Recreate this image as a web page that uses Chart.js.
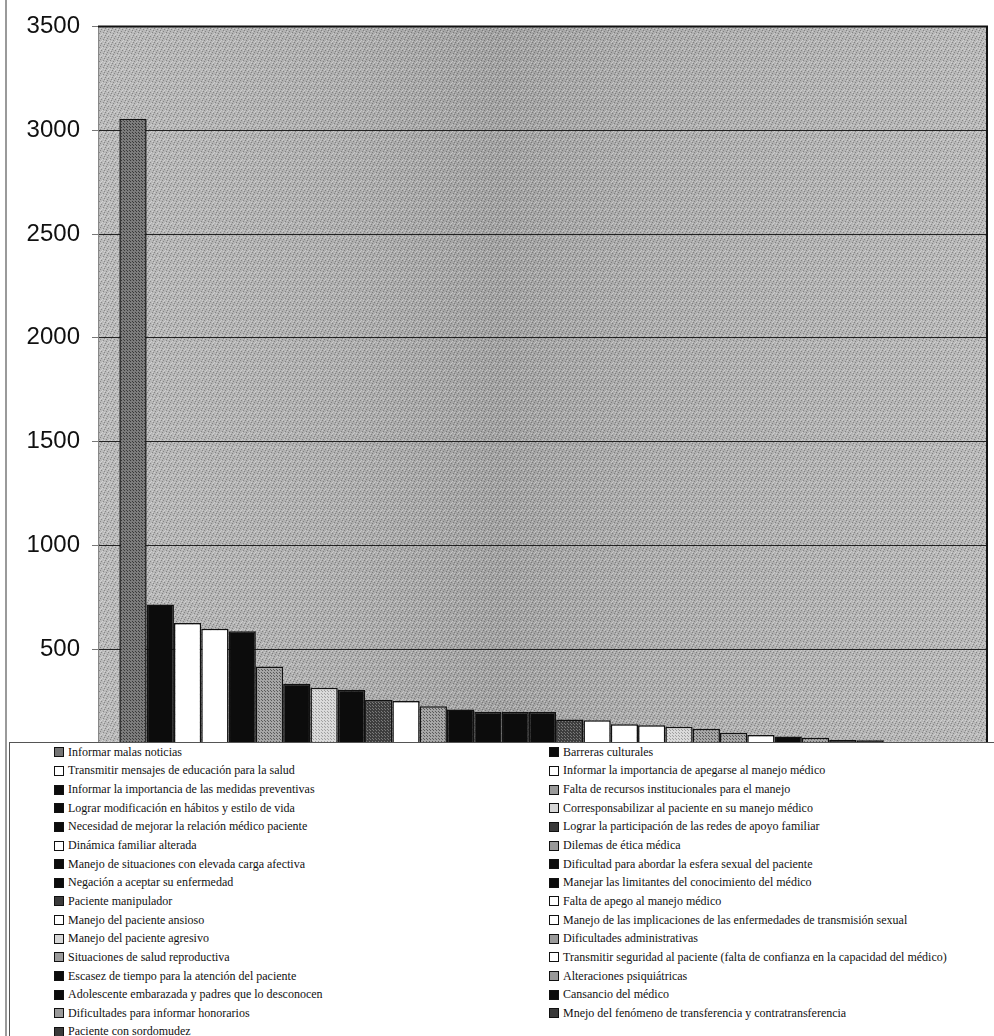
<!DOCTYPE html>
<html>
<head>
<meta charset="utf-8">
<script src="https://cdn.jsdelivr.net/npm/chart.js@4"></script>
<style>
	body { margin: 0; background: #fff; }
	#wrap { position: relative; width: 994px; height: 1036px; overflow: hidden; }
	#frame { position: absolute; left: 5px; top: 0; width: 2px; height: 1036px; background: #9a9a9a; }
	#legend {
		position: absolute; left: 9px; top: 742px; width: 1000px; height: 300px;
		background: #fff; border-left: 1px solid #555; border-top: 1px solid #555;
		display: grid; grid-template-columns: 495px 450px; grid-auto-rows: 18.65px;
		padding-left: 44px; box-sizing: border-box;
		font: 12px "Liberation Serif", "DejaVu Serif", serif; color: #111;
	}
	.item { display: flex; align-items: center; white-space: nowrap; }
	.sw { width: 8px; height: 8px; border: 1px solid #111; margin-right: 4px; flex: none; }
</style>
</head>
<body>
<div id="wrap">
	<canvas id="chart" width="994" height="1036"></canvas>
	<div id="frame"></div>
	<div id="legend"></div>
</div>
<script>
// Categories in bar order (legend reads row by row, two columns)
const categories = [
	"Informar malas noticias",
	"Barreras culturales",
	"Transmitir mensajes de educación para la salud",
	"Informar la importancia de apegarse al manejo médico",
	"Informar  la importancia de las medidas preventivas",
	"Falta de recursos institucionales para el manejo",
	"Lograr modificación en hábitos y estilo de vida",
	"Corresponsabilizar al paciente en su manejo médico",
	"Necesidad de mejorar la relación médico paciente",
	"Lograr la participación de las redes de apoyo familiar",
	"Dinámica familiar alterada",
	"Dilemas de ética médica",
	"Manejo de situaciones con elevada carga afectiva",
	"Dificultad para abordar la esfera sexual del paciente",
	"Negación a aceptar su enfermedad",
	"Manejar las limitantes del conocimiento del médico",
	"Paciente manipulador",
	"Falta de apego al manejo médico",
	"Manejo del paciente ansioso",
	"Manejo de las implicaciones de las enfermedades de transmisión sexual",
	"Manejo del paciente agresivo",
	"Dificultades administrativas",
	"Situaciones de salud reproductiva",
	"Transmitir seguridad al paciente (falta de confianza en la capacidad del médico)",
	"Escasez  de tiempo para la atención del paciente",
	"Alteraciones psiquiátricas",
	"Adolescente embarazada y padres que lo desconocen",
	"Cansancio del médico",
	"Dificultades para informar honorarios",
	"Mnejo del fenómeno de transferencia y contratransferencia",
	"Paciente con sordomudez"
];

const values = [
	3055, 715, 626, 598, 587, 417, 333, 314, 305, 257,
	250, 225, 209, 198, 198, 198, 161, 158, 139, 134,
	126, 117, 98, 87, 79, 74, 63, 62, 45, 35, 25
];

const yTicks = [0, 500, 1000, 1500, 2000, 2500, 3000, 3500];

// fill style per bar: k = black, w = white, g = dotted grey, d = dark dotted, l = light, m = mid dotted
const fillKeys = [
	"m", "k", "w", "w", "k", "g", "k", "l", "k", "d",
	"w", "g", "k", "k", "k", "k", "d", "w", "w", "w",
	"l", "g", "g", "w", "k", "g", "k", "k", "g", "d", "d"
];

function dotPattern(base, dot, step) {
	const c = document.createElement("canvas");
	c.width = step;
	c.height = step;
	const x = c.getContext("2d");
	x.fillStyle = base;
	x.fillRect(0, 0, step, step);
	x.fillStyle = dot;
	x.fillRect(0, 0, 1, 1);
	x.fillRect(Math.floor(step / 2), Math.floor(step / 2), 1, 1);
	return x.createPattern(c, "repeat");
}

const fills = {
	k: "#0c0c0c",
	w: "#ffffff",
	l: dotPattern("#dadada", "#a0a0a0", 3),
	g: dotPattern("#a6a6a6", "#5a5a5a", 3),
	m: dotPattern("#7c7c7c", "#3a3a3a", 3),
	d: dotPattern("#3e3e3e", "#7a7a7a", 3)
};
const swatchCss = { k: "#0c0c0c", w: "#ffffff", l: "#d6d6d6", g: "#9a9a9a", m: "#747474", d: "#3a3a3a" };

// speckled plot background
function speckle() {
	const c = document.createElement("canvas");
	c.width = 7;
	c.height = 7;
	const x = c.getContext("2d");
	const dark = [[0, 0], [3, 1], [5, 4], [1, 5], [6, 2], [2, 3]];
	const light = [[2, 0], [5, 1], [0, 3], [4, 5], [6, 6], [3, 6]];
	x.fillStyle = "rgba(40,40,40,0.35)";
	dark.forEach((p) => x.fillRect(p[0], p[1], 1, 1));
	x.fillStyle = "rgba(255,255,255,0.35)";
	light.forEach((p) => x.fillRect(p[0], p[1], 1, 1));
	return x.createPattern(c, "repeat");
}

const plotBackground = {
	id: "plotBackground",
	beforeDraw(chart) {
		const { ctx, chartArea: a } = chart;
		const g = ctx.createLinearGradient(a.left, 0, a.right, 0);
		g.addColorStop(0, "#bababa");
		g.addColorStop(0.28, "#aeaeae");
		g.addColorStop(0.45, "#a2a2a2");
		g.addColorStop(0.62, "#adadad");
		g.addColorStop(1, "#b9b9b9");
		ctx.save();
		ctx.fillStyle = g;
		ctx.fillRect(a.left, a.top, a.right - a.left, a.bottom - a.top);
		ctx.fillStyle = speckle();
		ctx.fillRect(a.left, a.top, a.right - a.left, a.bottom - a.top);
		ctx.restore();
	},
	beforeDatasetsDraw(chart) {
		const { ctx, chartArea: a } = chart;
		ctx.save();
		ctx.strokeStyle = "#111";
		ctx.lineWidth = 2;
		ctx.beginPath();
		ctx.moveTo(a.left, a.top);
		ctx.lineTo(a.right, a.top);
		ctx.lineTo(a.right, a.bottom);
		ctx.stroke();
		ctx.restore();
	}
};

const datasets = categories.map((name, i) => ({
	label: name,
	data: [values[i]],
	backgroundColor: fills[fillKeys[i]],
	borderColor: "#111",
	borderWidth: 1.5,
	barPercentage: 1,
	categoryPercentage: 0.952
}));

new Chart(document.getElementById("chart"), {
	type: "bar",
	data: { labels: [""], datasets: datasets },
	options: {
		responsive: false,
		animation: false,
		layout: { padding: { top: 19, right: 7, bottom: 283, left: 0 } },
		plugins: { legend: { display: false }, tooltip: { enabled: false } },
		scales: {
			x: { display: false },
			y: {
				min: 0,
				max: 3500,
				afterBuildTicks(scale) {
					scale.ticks = yTicks.map((v) => ({ value: v }));
				},
				afterFit(scale) {
					scale.width = 98;
				},
				grid: { color: "#222", lineWidth: 1, tickLength: 6, tickColor: "#777" },
				border: { color: "#888", width: 1 },
				ticks: {
					padding: 12,
					color: "#111",
					font: { family: "'Liberation Sans', Arial, sans-serif", size: 24 },
					callback: (v) => String(v)
				}
			}
		}
	},
	plugins: [plotBackground]
});

// two-column legend, filled row by row
const legend = document.getElementById("legend");
categories.forEach((name, i) => {
	const item = document.createElement("div");
	item.className = "item";
	const sw = document.createElement("span");
	sw.className = "sw";
	sw.style.background = swatchCss[fillKeys[i]];
	item.appendChild(sw);
	item.appendChild(document.createTextNode(name));
	legend.appendChild(item);
});
</script>
</body>
</html>
